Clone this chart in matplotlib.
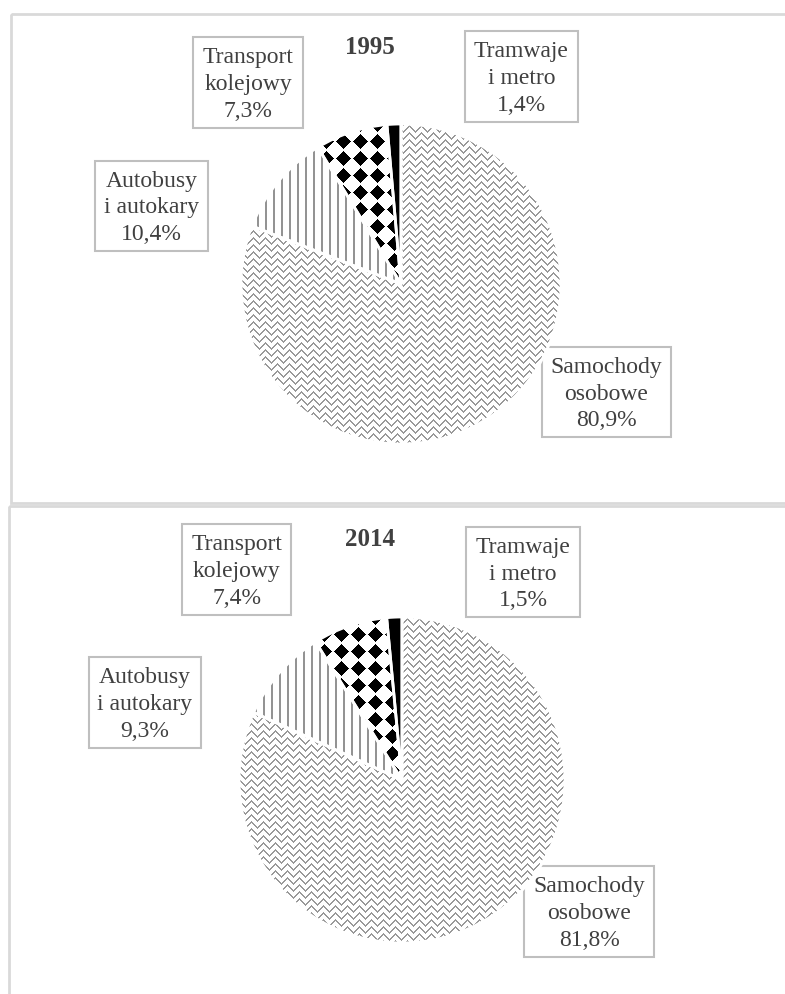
import numpy as np
import matplotlib
matplotlib.use("Agg")
import matplotlib.pyplot as plt
from matplotlib.patches import Rectangle

# ---------- DANE ----------
kategorie = ["Samochody\nosobowe", "Autobusy\ni autokary", "Transport\nkolejowy", "Tramwaje\ni metro"]
lata = ["1995", "2014"]
udzialy_1995 = [80.9, 10.4, 7.3, 1.4]
udzialy_2014 = [81.8, 9.3, 7.4, 1.5]

plt.rcParams["font.family"] = ["Liberation Serif", "DejaVu Serif"]
TXT = "#404040"
RAMKA = "#d9d9d9"
BOX = "#bfbfbf"

W, H = 785, 995
fig = plt.figure(figsize=(W / 100, H / 100), dpi=100)
bg = fig.add_axes([0, 0, 1, 1])
bg.set_xlim(0, W)
bg.set_ylim(H, 0)
bg.axis("off")


# ---------- TEKSTURY ----------
def tekstura(rodzaj, n):
    y, x = np.mgrid[0:n, 0:n]
    img = np.ones((n, n, 3))
    if rodzaj == "jodelka":
        tri = np.abs((x % 12) - 6)
        m = ((y + tri) % 7) < 2
        img[m] = 0.6
    elif rodzaj == "pionowe":
        m = (x % 8) < 2
        img[m] = 0.58
    elif rodzaj == "romby":
        dx = np.abs(((x + 8) % 17) - 8)
        dy = np.abs(((y + 8) % 17) - 8)
        m = (dx + dy) < 8
        img[m] = 0.0
    elif rodzaj == "czarny":
        img[:] = 0.0
    return img


wzory = ["jodelka", "pionowe", "romby", "czarny"]

# (środek x, środek y, promień) w pikselach; ramki etykiet (x0, y0, x1, y1)
panele = [
    dict(rok=lata[0], vals=udzialy_1995, c=(401, 285), r=160, tytul=(370, 47),
         ramka=(11, 15, 800, 504),
         boxy=[(542, 348, 671, 438), (95, 162, 208, 252), (193, 38, 303, 129), (465, 32, 578, 123)]),
    dict(rok=lata[1], vals=udzialy_2014, c=(402, 781), r=163, tytul=(370, 540),
         ramka=(9, 507, 800, 1010),
         boxy=[(524, 867, 654, 958), (89, 658, 201, 749), (182, 525, 291, 616), (466, 528, 580, 618)]),
]

for p in panele:
    x0, y0, x1, y1 = p["ramka"]
    bg.add_patch(Rectangle((x0, y0), x1 - x0, y1 - y0, fill=False, ec=RAMKA, lw=2))
    bg.text(p["tytul"][0], p["tytul"][1], p["rok"], ha="center", va="center",
            fontsize=18, fontweight="bold", color=TXT)

    cx, cy = p["c"]
    r = p["r"]
    ax = fig.add_axes([(cx - r) / W, 1 - (cy + r) / H, 2 * r / W, 2 * r / H])
    wedges, _ = ax.pie(p["vals"], startangle=90, counterclock=False, radius=1,
                       wedgeprops=dict(fc="none", ec="white", lw=2))
    ax.set_xlim(-1, 1)
    ax.set_ylim(-1, 1)
    ax.set_aspect("auto")
    ax.axis("off")
    n = 2 * r
    for w, wz in zip(wedges, wzory):
        im = ax.imshow(tekstura(wz, n), extent=(-1, 1, -1, 1), interpolation="nearest",
                       origin="upper", zorder=0.5)
        im.set_clip_path(w)
        w.set_zorder(1)

    for (bx0, by0, bx1, by1), nazwa, v in zip(p["boxy"], kategorie, p["vals"]):
        bg.add_patch(Rectangle((bx0, by0), bx1 - bx0, by1 - by0, fill=False, ec=BOX, lw=1.5))
        etykieta = f"{nazwa}\n{v:.1f}%".replace(".", ",")
        bg.text((bx0 + bx1) / 2, (by0 + by1) / 2 + 1, etykieta, ha="center", va="center",
                fontsize=17, color=TXT, linespacing=1.37)

fig.savefig("out.png", dpi=100)
